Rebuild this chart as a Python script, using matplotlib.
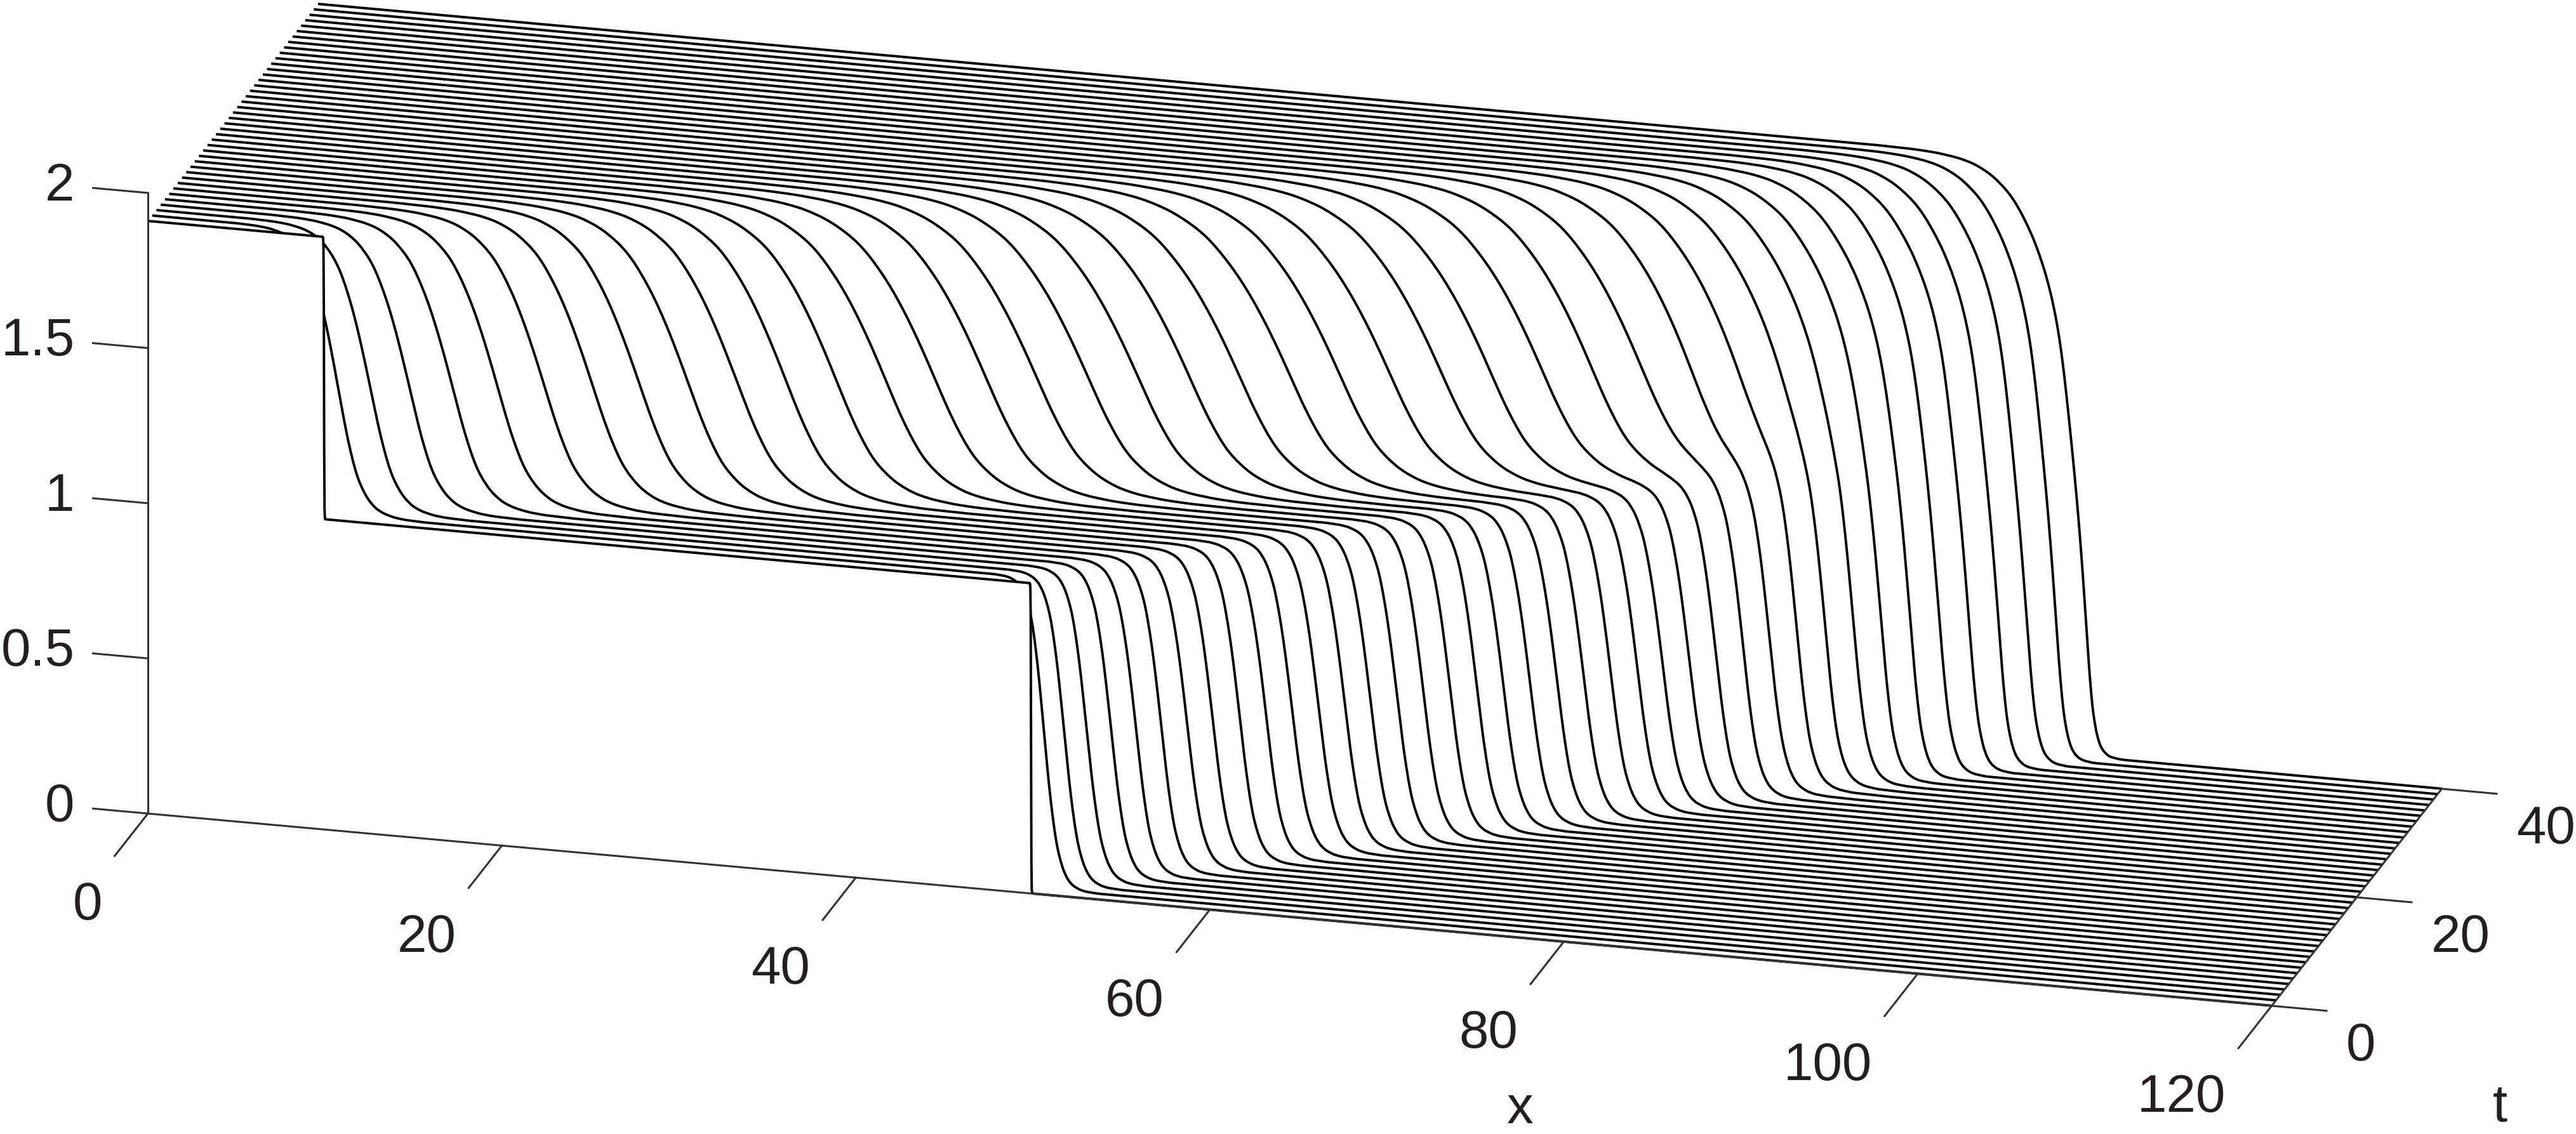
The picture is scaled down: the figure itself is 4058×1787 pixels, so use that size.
import numpy as np
import matplotlib
matplotlib.use('Agg')
import matplotlib.pyplot as plt

plt.rcParams['font.family'] = ['Liberation Sans', 'DejaVu Sans']

# curve times, one waterfall line per t
t_values = list(range(41))

# plateaus
u_high = 1.91
u_mid = 1.0

# upper front (u_high -> u_mid): centre, left width, right width per curve
c_upper = [9.95, 10.36, 11.88, 13.8, 15.94, 18.19, 20.55, 22.99, 25.37, 27.85, 30.34,
           32.84, 35.4, 37.9, 40.42, 43.05, 45.64, 48.27, 50.82, 53.45, 56.02,
           58.62, 61.18, 63.76, 66.43, 68.96, 71.66, 74.27, 76.83, 79.38, 81.78,
           83.97, 85.88, 87.63, 89.25, 90.81, 92.29, 93.75, 95.19, 96.63, 98.06]
wl_upper = [0.02, 1.7, 2.0, 2.3, 2.6, 2.85, 3.1, 3.3, 3.5, 3.7, 3.85,
            4.0, 4.2, 4.4, 4.5, 4.6, 4.7, 4.8, 4.9, 5.0, 5.0,
            5.0, 5.0, 5.0, 5.0, 5.0, 4.9, 4.8, 4.7, 4.6, 4.5,
            4.4, 4.2, 4.0, 3.8, 3.6, 3.5, 3.4, 3.3, 3.1, 3.0]
wr_upper = [0.02, 1.5, 1.7, 1.9, 2.1, 2.3, 2.5, 2.65, 2.8, 2.95, 3.1,
            3.2, 3.3, 3.4, 3.5, 3.55, 3.6, 3.6, 3.6, 3.6, 3.6,
            3.6, 3.6, 3.6, 3.6, 3.5, 3.5, 3.4, 3.4, 3.0, 2.8,
            2.4, 2.0, 1.7, 1.5, 1.4, 1.3, 1.3, 1.25, 1.2, 1.2]

# lower front (u_mid -> 0)
c_lower = [49.9, 50.4, 51.28, 52.3, 53.42, 54.57, 55.75, 56.96, 58.17, 59.45, 60.69,
           61.93, 63.18, 64.42, 65.63, 66.9, 68.15, 69.42, 70.68, 71.92, 73.18,
           74.46, 75.73, 77.02, 78.29, 79.48, 80.75, 82.03, 83.34, 84.61, 85.92,
           87.27, 88.63, 89.95, 91.35, 92.74, 94.16, 95.57, 96.92, 98.33, 99.77]
wl_lower = [0.02, 0.85, 0.95, 1.0, 1.05, 1.1, 1.1, 1.15, 1.15, 1.15, 1.2,
            1.2, 1.2, 1.2, 1.2, 1.2, 1.2, 1.2, 1.2, 1.25, 1.25,
            1.25, 1.25, 1.25, 1.25, 1.25, 1.2, 1.15, 1.1, 1.05, 1.0,
            1.0, 0.95, 0.95, 0.9, 0.9, 0.9, 0.9, 0.9, 0.85, 0.85]
wr_lower = [0.02, 0.9, 0.95, 1.0, 1.0, 1.0, 1.0, 1.05, 1.05, 1.05, 1.05,
            1.1, 1.1, 1.1, 1.1, 1.1, 1.1, 1.1, 1.1, 1.1, 1.1,
            1.1, 1.1, 1.1, 1.1, 1.1, 1.1, 1.05, 1.0, 1.0, 0.95,
            0.9, 0.9, 0.85, 0.8, 0.8, 0.75, 0.7, 0.7, 0.65, 0.6]

# front shape measured on the curves, in units of the front width
shape_s = [-3.4, -2.6, -2.2, -1.8, -1.5, -1.2, -1.0, -0.8, -0.6, -0.4, -0.2, 0.0,
           0.2, 0.4, 0.6, 0.8, 1.0, 1.2, 1.5, 1.8, 2.2, 2.6, 3.4]
shape_f = [1.0, 0.997, 0.992, 0.981, 0.965, 0.934, 0.90, 0.858, 0.79, 0.708, 0.608, 0.5,
           0.392, 0.292, 0.21, 0.142, 0.10, 0.066, 0.035, 0.019, 0.008, 0.003, 0.0]

x_ticks = [0, 20, 40, 60, 80, 100, 120]
t_ticks = [0, 20, 40]
u_ticks = [0, 0.5, 1, 1.5, 2]
u_tick_labels = ['0', '0.5', '1', '1.5', '2']


def proj(x, t, u):
    # waterfall view, orthographic, gives pixels in the image
    x = np.asarray(x, dtype=float)
    u = np.asarray(u, dtype=float)
    return 233 + 27.88 * x + 6.7 * t, 1282 + 2.525 * x - 8.55 * t - 489 * u


def smooth(v, n):
    pad = np.r_[np.full(n, v[0]), v, np.full(n, v[-1])]
    kernel = np.ones(n) / n
    return np.convolve(pad, kernel, mode='same')[n:-n]


s_fine = np.arange(-3.4, 3.401, 0.01)
f_fine = smooth(smooth(np.interp(s_fine, shape_s, shape_f), 21), 21)


def front(x, c, wl, wr):
    # width goes over softly from the left value to the right value
    w = (wl + wr) / 2 + (wr - wl) / 2 * np.tanh(s_fine / 0.6)
    return np.interp(x, c + s_fine * w, f_fine)


x_grid = np.arange(0, 120.001, 0.02)

fig = plt.figure(figsize=(40.58, 17.87), dpi=100)
ax = fig.add_axes([0, 0, 1, 1])
ax.set_xlim(0, 4058)
ax.set_ylim(1787, 0)
ax.axis('off')

# back to front, each curve hides what lies behind it
for i in range(len(t_values) - 1, -1, -1):
    t = t_values[i]
    u = (u_high - u_mid) * front(x_grid, c_upper[i], wl_upper[i], wr_upper[i]) \
        + u_mid * front(x_grid, c_lower[i], wl_lower[i], wr_lower[i])
    sx, sy = proj(x_grid, t, u)
    bx, by = proj(x_grid, t, np.zeros_like(x_grid))
    ax.fill(np.r_[sx, bx[::-1]], np.r_[sy, by[::-1]], color='white', lw=0, zorder=2 * (41 - i))
    ax.plot(sx, sy, color='black', lw=2.8, solid_capstyle='butt', zorder=2 * (41 - i) + 1)

axis_color = '#333333'
axis_lw = 2.2
top = 200

# axis lines
px, py = proj([0, 120], 0, [0, 0])
ax.plot(px, py, color=axis_color, lw=axis_lw, zorder=top)
px, py = proj([120, 120], np.array([0, 40]), [0, 0])
ax.plot(px, py, color=axis_color, lw=axis_lw, zorder=top)
px, py = proj([0, 0], 0, [0, 2])
ax.plot(px, py, color=axis_color, lw=axis_lw, zorder=top)

text_style = dict(fontsize=60, color='#231f20', zorder=top)

for v in x_ticks:
    px, py = proj([v, v], np.array([0, -7.8]), [0, 0])
    ax.plot(px, py, color=axis_color, lw=axis_lw, zorder=top)
    lx, ly = proj(v + 1.4, -16.6, 0)
    ax.text(lx, ly, str(v), ha='right', va='center', **text_style)

for v in t_ticks:
    px, py = proj([120, 123.1], v, [0, 0])
    ax.plot(px, py, color=axis_color, lw=axis_lw, zorder=top)
    lx, ly = proj(124.2, v, -0.11)
    ax.text(lx, ly, str(v), ha='left', va='center', **text_style)

for v, lab in zip(u_ticks, u_tick_labels):
    px, py = proj([0, -3.1], 0, [v, v])
    ax.plot(px, py, color=axis_color, lw=axis_lw, zorder=top)
    lx, ly = proj(-4.15, 0, v)
    ax.text(lx, ly, lab, ha='right', va='center', **text_style)

ax.text(2394, 1748, 'x', ha='center', va='center', **text_style)
ax.text(3938, 1745, 't', ha='center', va='center', **text_style)

fig.savefig('out.png', dpi=100, facecolor='white')
